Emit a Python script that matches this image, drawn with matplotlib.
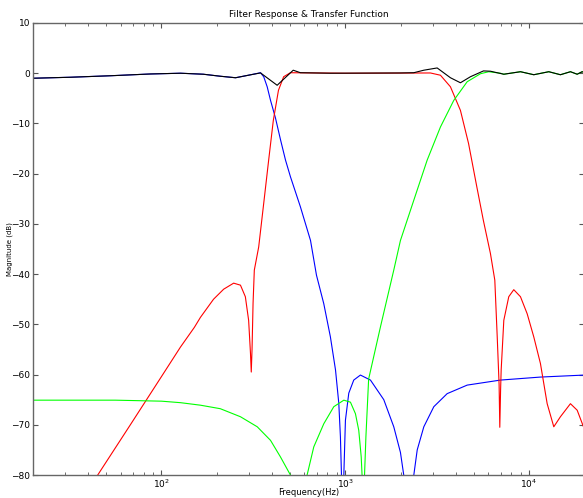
import matplotlib
matplotlib.use('Agg')
import matplotlib.pyplot as plt

# low-pass (blue)
freq_low = [20, 32, 53, 87, 127, 169, 209, 253, 297, 346, 360, 376, 392, 417, 444,
            473, 503, 570, 647, 697, 764, 830, 885, 922, 941, 953, 966, 982, 1002,
            1045, 1112, 1209, 1371, 1620, 1836, 1996, 2080, 2207, 2360, 2463, 2675,
            3032, 3584, 4606, 6985, 11530, 20000]
gain_low = [-1.0, -0.8, -0.5, -0.15, 0.0, -0.2, -0.6, -0.9, -0.4, 0.1, -0.7, -2.7, -5.4, -8.9, -13.2,
            -17.3, -20.6, -26.6, -33.3, -40.2, -45.9, -52.5, -59.1, -65.7, -72.4, -79.7, -100, -80, -69.1,
            -63.7, -61.1, -60.1, -61.1, -65.0, -70.4, -75.5, -80, -100, -80, -75, -70.4,
            -66.4, -63.8, -62.1, -61.1, -60.5, -60.1]

# band-pass (red)
freq_mid = [43, 45, 68, 100, 127, 151, 163, 192, 218, 247, 269, 286, 298, 305, 308, 311,
            315, 320, 338, 360, 383, 406, 433, 462, 503, 1000, 2907, 3295, 3734, 4232,
            4686, 5195, 5640, 6163, 6510, 6710, 6870, 6930, 7000, 7050, 7287, 7754,
            8256, 8978, 9766, 10607, 11530, 12545, 13630, 14810, 16790, 18270, 19770]
gain_mid = [-81, -80, -69.9, -60.4, -54.5, -50.6, -48.6, -45.0, -43.0, -41.8, -42.2, -44.5, -49.2, -55.8, -59.5, -55,
            -45.8, -39.2, -34.6, -25.9, -17.3, -9.4, -3.4, -0.7, 0.1, 0.0, 0.05, -0.4, -2.7, -7.4,
            -14, -22.6, -29.3, -35.9, -41.2, -52.5, -62, -70.5, -63, -59.1, -49.2, -44.5,
            -43.1, -44.5, -47.9, -52.5, -57.8, -65.8, -70.4, -68.4, -65.8, -67.1, -70.4]

# high-pass (green)
freq_high = [20, 56, 100, 127, 163, 209, 269, 332, 392, 444, 503, 549, 620, 674, 764,
             866, 982, 1067, 1136, 1184, 1221, 1234, 1252, 1273, 1295, 1340, 1554,
             1836, 1996, 2359, 2790, 3295, 3894, 4604, 5439, 6035, 6985, 7287, 8978,
             10607, 12800, 14810, 16790, 18270, 19450, 19770]
gain_high = [-65.1, -65.1, -65.3, -65.6, -66.1, -66.8, -68.4, -70.4, -73.1, -76.4, -80, -100, -80, -74.4, -69.8,
             -66.4, -65.1, -65.5, -67.8, -71.1, -76.4, -80, -100, -80, -72.4, -60.9, -50.5,
             -39.2, -33.3, -25.3, -17.3, -10.7, -5.4, -1.7, -0.1, 0.3, 0.0, -0.2, 0.3,
             -0.3, 0.3, -0.3, 0.3, -0.2, 0.3, 0.2]

# summed response (black)
freq_sum = [20, 32, 53, 87, 127, 169, 209, 253, 297, 346, 426, 521, 570, 830, 1996,
            2359, 2674, 3162, 3734, 4232, 4797, 5649, 6163, 7287, 8978, 10607, 12800,
            14810, 16790, 18270, 19450, 19770]
gain_sum = [-1.0, -0.8, -0.5, -0.15, 0.0, -0.2, -0.6, -0.9, -0.4, 0.06, -2.4, 0.6, 0.1, 0.0, 0.05,
            0.1, 0.6, 1.05, -0.9, -1.9, -0.7, 0.46, 0.4, -0.2, 0.3, -0.3, 0.3,
            -0.3, 0.3, -0.2, 0.3, 0.2]

y_ticks = list(range(-80, 11, 10))

fig = plt.figure(figsize=(5.83, 4.98), dpi=100)
ax = fig.add_axes([33 / 583, 23 / 498, 551.4 / 583, 452 / 498])

ax.semilogx(freq_low, gain_low, color='blue', lw=0.8)
ax.semilogx(freq_mid, gain_mid, color='red', lw=0.8)
ax.semilogx(freq_high, gain_high, color='#00ff00', lw=0.8)
ax.semilogx(freq_sum, gain_sum, color='black', lw=0.8)

ax.set_xlim(20, 20000)
ax.set_ylim(-80, 10)
ax.set_yticks(y_ticks)

for s in ax.spines.values():
    s.set_color('#666666')
    s.set_linewidth(1.0)
ax.tick_params(which='both', direction='in', top=True, right=True,
               color='#555555', labelsize=6.5, pad=2)
ax.tick_params(which='major', length=3.5)
ax.tick_params(which='minor', length=2.5)

ax.set_title('Filter Response & Transfer Function', fontsize=6.5, pad=4)
ax.set_xlabel('Frequency(Hz)', fontsize=6)
ax.xaxis.set_label_coords(0.5, -0.028)
ax.set_ylabel('Magnitude (dB)', fontsize=5)
ax.yaxis.set_label_coords(-0.037, 0.5)

fig.savefig('out.png', dpi=100)
